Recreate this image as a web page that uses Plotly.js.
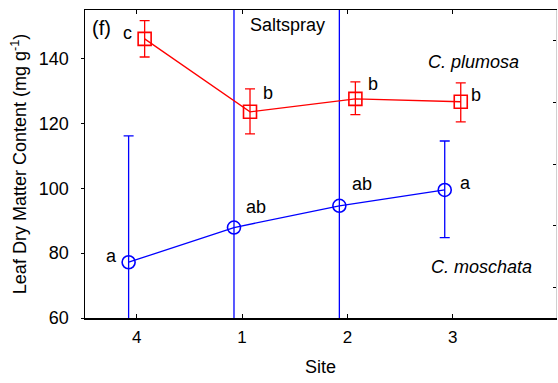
<!DOCTYPE html>
<html>
<head>
<meta charset="utf-8">
<script src="https://cdn.plot.ly/plotly-3.0.1.min.js"></script>
<style>html,body{margin:0;padding:0;background:#fff;}#chart{width:558px;height:383px;}</style>
</head>
<body>
<div id="chart"></div>
<script>
const sites = ["4", "1", "2", "3"];
const sitePos = [0, 1, 2, 3];
const plumosaMean = [146.1, 123.6, 127.6, 126.7];
const plumosaErrPlus = [5.6, 7.1, 5.2, 5.8];
const plumosaErrMinus = [5.6, 6.8, 4.9, 6.2];
const plumosaLetters = ["c", "b", "b", "b"];
const moschataMean = [77.2, 87.9, 94.6, 99.5];
const moschataErrPlus = [39.0, 80.0, 70.0, 15.1];
const moschataErrMinus = [39.0, 80.0, 70.0, 14.7];
const moschataLetters = ["a", "ab", "ab", "a"];

const off = 0.076;
const font = "Liberation Sans, Arial, sans-serif";
const fs = 18;
const red = "#ff0000", blue = "#0000ff";

const traces = [
  {
    x: sitePos.map(p => p - off), y: moschataMean, type: "scatter", mode: "lines+markers",
    line: {color: blue, width: 1.3},
    marker: {symbol: "circle-open", size: 13, color: blue, line: {width: 1.6, color: blue}},
    error_y: {type: "data", symmetric: false, array: moschataErrPlus, arrayminus: moschataErrMinus,
      color: blue, thickness: 1.3, width: 5},
    showlegend: false, cliponaxis: true
  },
  {
    x: sitePos.map(p => p + off), y: plumosaMean, type: "scatter", mode: "lines+markers",
    line: {color: red, width: 1.3},
    marker: {symbol: "square-open", size: 13, color: red, line: {width: 1.6, color: red}},
    error_y: {type: "data", symmetric: false, array: plumosaErrPlus, arrayminus: plumosaErrMinus,
      color: red, thickness: 1.3, width: 5},
    showlegend: false, cliponaxis: true
  },
  {x: [0], y: [0], yaxis: "y2", mode: "markers", marker: {opacity: 0}, showlegend: false, hoverinfo: "skip"}
];

const annotations = [];
const pLetterDx = [-0.159, 0.168, 0.163, 0.149];
const pLetterDy = [1.8, 5.8, 4.6, 2.1];
plumosaLetters.forEach((t, i) => annotations.push({
  x: sitePos[i] + off + pLetterDx[i], y: plumosaMean[i] + pLetterDy[i], text: t, showarrow: false,
  font: {family: font, size: fs, color: "#000"}
}));
const mLetterDx = [-0.159, 0.206, 0.211, 0.197];
const mLetterDy = [1.9, 6.3, 6.7, 2.1];
moschataLetters.forEach((t, i) => annotations.push({
  x: sitePos[i] - off + mLetterDx[i], y: moschataMean[i] + mLetterDy[i], text: t, showarrow: false,
  font: {family: font, size: fs, color: "#000"}
}));
annotations.push(
  {x: -0.33, y: 149.3, text: "(f)", showarrow: false, font: {family: font, size: 20, color: "#000"}},
  {x: 1.43, y: 150.4, text: "Saltspray", showarrow: false, font: {family: font, size: fs, color: "#000"}},
  {x: 3.20, y: 139.0, text: "<i>C. plumosa</i>", showarrow: false, font: {family: font, size: fs, color: "#000"}},
  {x: 3.27, y: 75.7, text: "<i>C. moschata</i>", showarrow: false, font: {family: font, size: fs, color: "#000"}}
);

const layout = {
  width: 558, height: 383,
  margin: {l: 85, r: 2, t: 10, b: 65},
  paper_bgcolor: "#fff", plot_bgcolor: "#fff",
  font: {family: font, size: fs, color: "#000"},
  xaxis: {
    range: [-0.49, 3.98], tickvals: sitePos, ticktext: sites,
    ticks: "inside", ticklen: 4, tickcolor: "#000", tickwidth: 1,
    showline: true, linecolor: "#000", linewidth: 1.5, mirror: "ticks",
    showgrid: false, zeroline: false, ticklabelstandoff: 3,
    title: {text: "Site", font: {family: font, size: fs}, standoff: 14},
    tickfont: {family: font, size: 17}
  },
  yaxis: {
    range: [60, 155], tickvals: [60, 80, 100, 120, 140],
    ticks: "outside", ticklen: 3, tickcolor: "#000", tickwidth: 1,
    showline: true, linecolor: "#000", linewidth: 1.5,
    showgrid: false, zeroline: false, ticklabelstandoff: 8,
    title: {text: "Leaf Dry Matter Content (mg g<sup>-1</sup>)", font: {family: font, size: fs}, standoff: 7},
    tickfont: {family: font, size: fs}
  },
  yaxis2: {
    overlaying: "y", side: "right", range: [-0.5, 4.5], tickvals: [0, 1, 2, 3, 4],
    showticklabels: false, ticks: "inside", ticklen: 3, tickcolor: "#000",
    showline: true, linecolor: "#d0d0d0", linewidth: 1, showgrid: false, zeroline: false
  },
  annotations: annotations,
  showlegend: false
};

Plotly.newPlot("chart", traces, layout, {staticPlot: true, displayModeBar: false});
</script>
</body>
</html>
